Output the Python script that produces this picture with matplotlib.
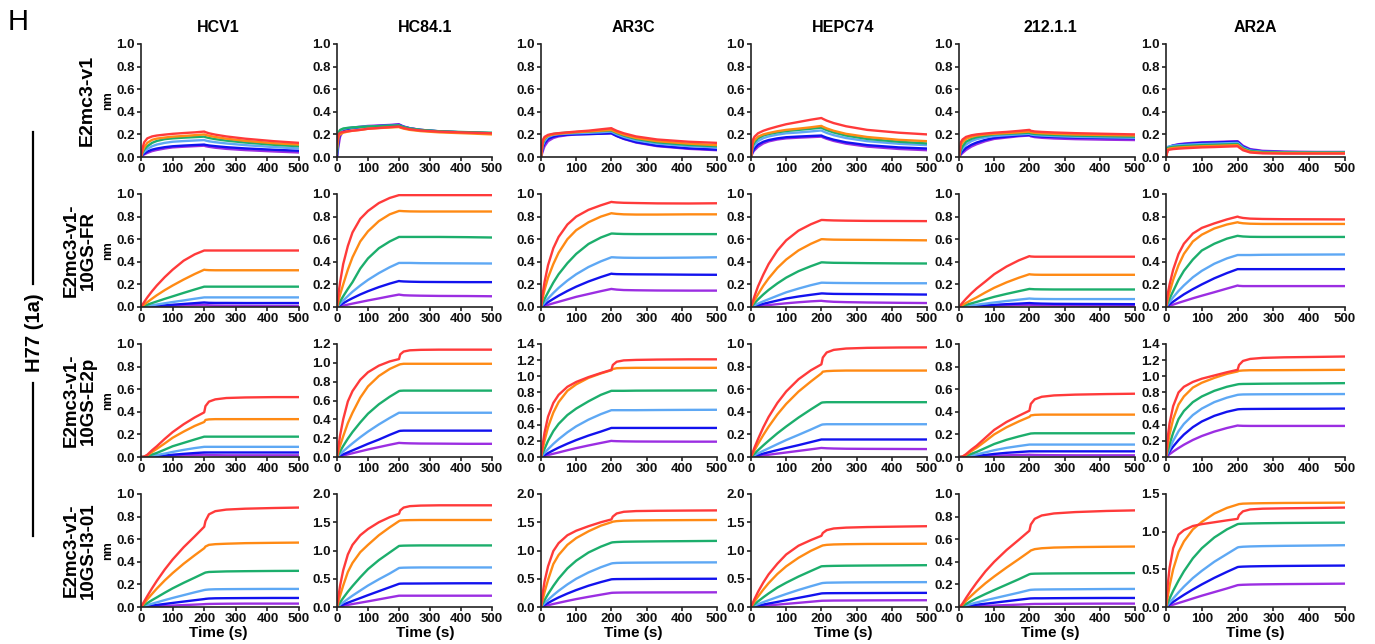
import numpy as np
import matplotlib
matplotlib.use('Agg')
import matplotlib.pyplot as plt
from matplotlib.lines import Line2D
from matplotlib.ticker import FormatStrFormatter

plt.rcParams['font.family'] = ['Liberation Sans', 'DejaVu Sans']
plt.rcParams['font.weight'] = 'bold'

# sample times (s): association then dissociation
TA = [0, 5, 10, 20, 35, 50, 75, 100, 135, 170, 200]
TD = [204, 215, 235, 270, 330, 420, 500]
times = TA + TD

antibodies = ['HCV1', 'HC84.1', 'AR3C', 'HEPC74', '212.1.1', 'AR2A']
constructs = ['E2mc3-v1', 'E2mc3-v1-\n10GS-FR', 'E2mc3-v1-\n10GS-E2p', 'E2mc3-v1-\n10GS-I3-01']
# highest to lowest concentration
colors = ['#ff3a3a', '#ff8a14', '#1cae6c', '#5ea8f4', '#1212ee', '#9b2ee2']

# ---- row 1 : E2mc3-v1
r1_hcv1 = [
    [0, 0.08, 0.13, 0.165, 0.182, 0.19, 0.198, 0.205, 0.212, 0.218, 0.225, 0.22, 0.21, 0.198, 0.182, 0.162, 0.14, 0.125],
    [0, 0.05, 0.085, 0.125, 0.152, 0.163, 0.172, 0.18, 0.186, 0.193, 0.2, 0.196, 0.188, 0.177, 0.162, 0.143, 0.122, 0.11],
    [0, 0.04, 0.065, 0.095, 0.125, 0.142, 0.158, 0.165, 0.171, 0.176, 0.18, 0.176, 0.168, 0.158, 0.145, 0.128, 0.108, 0.095],
    [0, 0.03, 0.045, 0.07, 0.095, 0.11, 0.125, 0.135, 0.141, 0.146, 0.15, 0.146, 0.139, 0.131, 0.12, 0.105, 0.088, 0.075],
    [0, 0.02, 0.03, 0.048, 0.065, 0.075, 0.087, 0.095, 0.101, 0.106, 0.11, 0.107, 0.102, 0.096, 0.087, 0.076, 0.064, 0.055],
    [0, 0.015, 0.022, 0.036, 0.052, 0.062, 0.075, 0.085, 0.091, 0.096, 0.1, 0.096, 0.09, 0.082, 0.072, 0.061, 0.049, 0.04],
]
r1_hc84 = [
    [0.12, 0.2, 0.215, 0.222, 0.228, 0.233, 0.24, 0.25, 0.257, 0.264, 0.27, 0.265, 0.256, 0.245, 0.234, 0.224, 0.216, 0.21],
    [0.08, 0.18, 0.2, 0.215, 0.225, 0.232, 0.24, 0.25, 0.256, 0.261, 0.265, 0.26, 0.251, 0.24, 0.229, 0.218, 0.209, 0.2],
    [0.05, 0.22, 0.24, 0.252, 0.258, 0.262, 0.266, 0.27, 0.273, 0.277, 0.28, 0.275, 0.265, 0.253, 0.24, 0.228, 0.22, 0.215],
    [0.03, 0.2, 0.23, 0.248, 0.256, 0.261, 0.266, 0.27, 0.273, 0.277, 0.28, 0.275, 0.265, 0.252, 0.238, 0.226, 0.216, 0.21],
    [0, 0.15, 0.21, 0.24, 0.25, 0.256, 0.263, 0.27, 0.275, 0.28, 0.285, 0.28, 0.268, 0.254, 0.24, 0.227, 0.216, 0.21],
    [0, 0.1, 0.18, 0.235, 0.252, 0.26, 0.268, 0.275, 0.279, 0.284, 0.29, 0.284, 0.27, 0.255, 0.24, 0.227, 0.216, 0.21],
]
r1_ar3c = [
    [0, 0.15, 0.178, 0.196, 0.206, 0.211, 0.218, 0.225, 0.233, 0.245, 0.255, 0.248, 0.232, 0.21, 0.182, 0.155, 0.135, 0.125],
    [0, 0.13, 0.165, 0.188, 0.2, 0.206, 0.213, 0.22, 0.226, 0.233, 0.24, 0.234, 0.219, 0.197, 0.168, 0.14, 0.118, 0.105],
    [0, 0.12, 0.16, 0.19, 0.203, 0.21, 0.216, 0.22, 0.225, 0.23, 0.235, 0.229, 0.213, 0.19, 0.16, 0.13, 0.107, 0.095],
    [0, 0.1, 0.14, 0.178, 0.195, 0.202, 0.207, 0.21, 0.214, 0.219, 0.225, 0.218, 0.202, 0.178, 0.148, 0.118, 0.096, 0.085],
    [0, 0.08, 0.12, 0.16, 0.18, 0.19, 0.197, 0.2, 0.203, 0.206, 0.21, 0.203, 0.186, 0.162, 0.132, 0.1, 0.077, 0.065],
    [0, 0.05, 0.095, 0.14, 0.168, 0.182, 0.193, 0.2, 0.203, 0.206, 0.21, 0.203, 0.186, 0.16, 0.128, 0.096, 0.072, 0.06],
]
r1_hepc = [
    [0, 0.15, 0.18, 0.21, 0.232, 0.248, 0.27, 0.29, 0.31, 0.33, 0.345, 0.338, 0.322, 0.3, 0.272, 0.24, 0.215, 0.2],
    [0, 0.12, 0.15, 0.18, 0.2, 0.212, 0.228, 0.24, 0.251, 0.263, 0.275, 0.268, 0.253, 0.232, 0.205, 0.177, 0.152, 0.14],
    [0, 0.1, 0.13, 0.165, 0.19, 0.203, 0.218, 0.23, 0.24, 0.25, 0.26, 0.253, 0.238, 0.217, 0.19, 0.16, 0.135, 0.12],
    [0, 0.08, 0.105, 0.14, 0.167, 0.182, 0.198, 0.21, 0.217, 0.226, 0.235, 0.228, 0.213, 0.193, 0.168, 0.14, 0.117, 0.105],
    [0, 0.05, 0.075, 0.11, 0.135, 0.15, 0.165, 0.175, 0.181, 0.186, 0.19, 0.184, 0.171, 0.153, 0.13, 0.105, 0.085, 0.075],
    [0, 0.04, 0.06, 0.09, 0.12, 0.138, 0.155, 0.165, 0.171, 0.176, 0.18, 0.174, 0.161, 0.142, 0.118, 0.092, 0.071, 0.06],
]
r1_212 = [
    [0, 0.13, 0.155, 0.178, 0.192, 0.2, 0.208, 0.215, 0.222, 0.231, 0.24, 0.232, 0.226, 0.222, 0.217, 0.211, 0.205, 0.2],
    [0, 0.1, 0.13, 0.16, 0.178, 0.19, 0.199, 0.205, 0.211, 0.218, 0.225, 0.219, 0.214, 0.21, 0.205, 0.199, 0.194, 0.19],
    [0, 0.06, 0.095, 0.135, 0.16, 0.175, 0.188, 0.2, 0.205, 0.21, 0.215, 0.209, 0.204, 0.2, 0.195, 0.189, 0.184, 0.18],
    [0, 0.05, 0.075, 0.11, 0.14, 0.158, 0.174, 0.185, 0.193, 0.2, 0.205, 0.199, 0.194, 0.19, 0.185, 0.179, 0.174, 0.17],
    [0, 0.03, 0.05, 0.08, 0.108, 0.128, 0.152, 0.17, 0.18, 0.19, 0.195, 0.19, 0.185, 0.181, 0.177, 0.172, 0.168, 0.165],
    [0, 0.02, 0.035, 0.062, 0.092, 0.113, 0.14, 0.16, 0.172, 0.184, 0.19, 0.183, 0.176, 0.17, 0.164, 0.158, 0.153, 0.15],
]
r1_ar2a = [
    [0, 0.06, 0.065, 0.07, 0.074, 0.077, 0.081, 0.085, 0.088, 0.092, 0.095, 0.085, 0.06, 0.04, 0.032, 0.03, 0.03, 0.03],
    [0, 0.07, 0.075, 0.08, 0.084, 0.087, 0.091, 0.095, 0.098, 0.102, 0.105, 0.095, 0.068, 0.046, 0.037, 0.035, 0.035, 0.035],
    [0, 0.08, 0.085, 0.09, 0.094, 0.097, 0.101, 0.105, 0.108, 0.112, 0.115, 0.105, 0.076, 0.053, 0.043, 0.04, 0.04, 0.04],
    [0, 0.09, 0.095, 0.1, 0.104, 0.107, 0.111, 0.115, 0.118, 0.122, 0.125, 0.115, 0.084, 0.058, 0.046, 0.042, 0.04, 0.04],
    [0, 0.08, 0.092, 0.102, 0.109, 0.114, 0.12, 0.125, 0.128, 0.132, 0.135, 0.125, 0.092, 0.064, 0.05, 0.044, 0.041, 0.04],
    [0, 0.07, 0.088, 0.103, 0.113, 0.119, 0.125, 0.13, 0.133, 0.137, 0.14, 0.13, 0.1, 0.07, 0.055, 0.048, 0.045, 0.045],
]

# ---- row 2 : E2mc3-v1-10GS-FR
r2_hcv1 = [
    [0, 0.022, 0.044, 0.085, 0.14, 0.19, 0.264, 0.33, 0.41, 0.466, 0.5, 0.5, 0.5, 0.5, 0.5, 0.5, 0.5, 0.5],
    [0, 0.011, 0.022, 0.043, 0.074, 0.104, 0.149, 0.19, 0.243, 0.292, 0.33, 0.328, 0.326, 0.325, 0.325, 0.325, 0.325, 0.325],
    [0, 0.005, 0.01, 0.02, 0.035, 0.049, 0.072, 0.094, 0.125, 0.155, 0.18, 0.18, 0.18, 0.18, 0.18, 0.18, 0.18, 0.18],
    [0, 0.002, 0.004, 0.009, 0.015, 0.022, 0.033, 0.044, 0.058, 0.073, 0.085, 0.085, 0.085, 0.085, 0.085, 0.085, 0.085, 0.085],
    [0, 0.001, 0.002, 0.004, 0.007, 0.01, 0.015, 0.02, 0.027, 0.034, 0.04, 0.039, 0.037, 0.036, 0.036, 0.035, 0.035, 0.035],
    [0, 0.0005, 0.001, 0.002, 0.0035, 0.005, 0.0075, 0.01, 0.0135, 0.017, 0.02, 0.018, 0.015, 0.013, 0.012, 0.011, 0.01, 0.01],
]
r2_hc84 = [
    [0, 0.12, 0.22, 0.38, 0.54, 0.66, 0.78, 0.85, 0.92, 0.965, 0.99, 0.99, 0.99, 0.99, 0.99, 0.99, 0.99, 0.99],
    [0, 0.055, 0.11, 0.2, 0.33, 0.44, 0.58, 0.67, 0.76, 0.82, 0.85, 0.85, 0.848, 0.846, 0.845, 0.845, 0.845, 0.845],
    [0, 0.025, 0.05, 0.095, 0.16, 0.22, 0.34, 0.43, 0.52, 0.58, 0.62, 0.62, 0.62, 0.62, 0.62, 0.62, 0.618, 0.615],
    [0, 0.015, 0.029, 0.057, 0.097, 0.135, 0.19, 0.24, 0.3, 0.352, 0.39, 0.39, 0.39, 0.39, 0.388, 0.387, 0.386, 0.385],
    [0, 0.009, 0.017, 0.033, 0.057, 0.078, 0.111, 0.14, 0.176, 0.207, 0.23, 0.228, 0.226, 0.224, 0.222, 0.221, 0.22, 0.22],
    [0, 0.003, 0.006, 0.012, 0.021, 0.03, 0.044, 0.058, 0.076, 0.095, 0.11, 0.108, 0.104, 0.102, 0.1, 0.098, 0.097, 0.095],
]
r2_ar3c = [
    [0, 0.12, 0.22, 0.37, 0.52, 0.62, 0.73, 0.8, 0.86, 0.9, 0.93, 0.928, 0.925, 0.922, 0.92, 0.917, 0.916, 0.918],
    [0, 0.08, 0.15, 0.26, 0.38, 0.48, 0.6, 0.68, 0.75, 0.8, 0.83, 0.828, 0.824, 0.82, 0.818, 0.818, 0.82, 0.82],
    [0, 0.036, 0.07, 0.13, 0.216, 0.29, 0.388, 0.47, 0.558, 0.615, 0.65, 0.65, 0.648, 0.646, 0.645, 0.645, 0.645, 0.645],
    [0, 0.02, 0.038, 0.075, 0.124, 0.169, 0.234, 0.29, 0.354, 0.404, 0.44, 0.44, 0.438, 0.436, 0.435, 0.435, 0.437, 0.44],
    [0, 0.011, 0.022, 0.043, 0.072, 0.1, 0.142, 0.18, 0.226, 0.265, 0.295, 0.293, 0.291, 0.29, 0.289, 0.288, 0.286, 0.285],
    [0, 0.005, 0.01, 0.019, 0.033, 0.046, 0.068, 0.09, 0.115, 0.14, 0.16, 0.158, 0.154, 0.15, 0.148, 0.146, 0.145, 0.145],
]
r2_hepc = [
    [0, 0.049, 0.096, 0.183, 0.287, 0.38, 0.5, 0.59, 0.676, 0.732, 0.77, 0.77, 0.768, 0.766, 0.764, 0.762, 0.761, 0.76],
    [0, 0.031, 0.06, 0.113, 0.188, 0.253, 0.346, 0.42, 0.501, 0.559, 0.6, 0.6, 0.598, 0.596, 0.595, 0.594, 0.592, 0.59],
    [0, 0.018, 0.034, 0.067, 0.111, 0.151, 0.209, 0.26, 0.317, 0.361, 0.395, 0.395, 0.393, 0.391, 0.39, 0.388, 0.386, 0.385],
    [0, 0.008, 0.015, 0.03, 0.05, 0.069, 0.1, 0.13, 0.163, 0.193, 0.215, 0.215, 0.214, 0.213, 0.212, 0.211, 0.21, 0.21],
    [0, 0.004, 0.008, 0.016, 0.028, 0.039, 0.057, 0.075, 0.093, 0.108, 0.12, 0.12, 0.118, 0.116, 0.115, 0.114, 0.112, 0.11],
    [0, 0.002, 0.003, 0.007, 0.012, 0.017, 0.025, 0.033, 0.042, 0.05, 0.055, 0.053, 0.05, 0.046, 0.043, 0.04, 0.037, 0.035],
]
r2_212 = [
    [0, 0.019, 0.038, 0.073, 0.121, 0.164, 0.226, 0.29, 0.358, 0.413, 0.45, 0.447, 0.445, 0.445, 0.445, 0.445, 0.445, 0.445],
    [0, 0.009, 0.018, 0.036, 0.061, 0.085, 0.129, 0.17, 0.218, 0.259, 0.29, 0.288, 0.286, 0.285, 0.285, 0.285, 0.285, 0.285],
    [0, 0.005, 0.01, 0.019, 0.032, 0.045, 0.068, 0.09, 0.116, 0.14, 0.16, 0.159, 0.157, 0.156, 0.155, 0.155, 0.155, 0.155],
    [0, 0.002, 0.004, 0.008, 0.014, 0.02, 0.03, 0.04, 0.053, 0.065, 0.075, 0.074, 0.072, 0.071, 0.07, 0.07, 0.07, 0.07],
    [0, 0.001, 0.002, 0.004, 0.006, 0.009, 0.014, 0.019, 0.025, 0.03, 0.035, 0.034, 0.032, 0.03, 0.028, 0.027, 0.026, 0.025],
    [0, 0.0005, 0.001, 0.002, 0.0035, 0.005, 0.0075, 0.01, 0.0135, 0.017, 0.02, 0.018, 0.016, 0.014, 0.013, 0.012, 0.011, 0.01],
]
r2_ar2a = [
    [0, 0.12, 0.2, 0.33, 0.47, 0.56, 0.65, 0.7, 0.74, 0.775, 0.8, 0.795, 0.788, 0.782, 0.779, 0.777, 0.776, 0.775],
    [0, 0.07, 0.13, 0.24, 0.37, 0.47, 0.58, 0.64, 0.695, 0.73, 0.75, 0.746, 0.741, 0.737, 0.735, 0.735, 0.735, 0.735],
    [0, 0.04, 0.075, 0.14, 0.24, 0.32, 0.42, 0.5, 0.56, 0.605, 0.63, 0.628, 0.624, 0.621, 0.62, 0.62, 0.62, 0.62],
    [0, 0.023, 0.045, 0.086, 0.142, 0.191, 0.263, 0.32, 0.383, 0.43, 0.46, 0.46, 0.46, 0.46, 0.462, 0.463, 0.464, 0.465],
    [0, 0.012, 0.024, 0.047, 0.08, 0.112, 0.158, 0.2, 0.254, 0.3, 0.335, 0.335, 0.335, 0.335, 0.335, 0.335, 0.335, 0.335],
    [0, 0.005, 0.011, 0.021, 0.037, 0.052, 0.077, 0.1, 0.131, 0.163, 0.19, 0.187, 0.185, 0.185, 0.185, 0.185, 0.185, 0.185],
]

# ---- row 3 : E2mc3-v1-10GS-E2p
r3_hcv1 = [
    [0, 0, 0.003, 0.02, 0.06, 0.095, 0.16, 0.22, 0.29, 0.35, 0.395, 0.45, 0.49, 0.51, 0.522, 0.527, 0.53, 0.53],
    [0, 0, 0.002, 0.015, 0.045, 0.072, 0.12, 0.17, 0.225, 0.275, 0.31, 0.328, 0.333, 0.335, 0.335, 0.335, 0.335, 0.335],
    [0, 0, 0.001, 0.008, 0.022, 0.036, 0.065, 0.095, 0.125, 0.155, 0.18, 0.18, 0.18, 0.18, 0.18, 0.18, 0.18, 0.18],
    [0, 0, 0.0005, 0.003, 0.01, 0.017, 0.03, 0.045, 0.063, 0.079, 0.09, 0.09, 0.09, 0.09, 0.09, 0.09, 0.09, 0.09],
    [0, 0, 0, 0.001, 0.004, 0.007, 0.013, 0.02, 0.028, 0.035, 0.04, 0.04, 0.04, 0.04, 0.04, 0.04, 0.04, 0.04],
    [0, 0, 0, 0.001, 0.002, 0.0035, 0.0065, 0.01, 0.014, 0.017, 0.02, 0.019, 0.017, 0.016, 0.015, 0.015, 0.015, 0.015],
]
r3_hc84 = [
    [0, 0.12, 0.23, 0.4, 0.59, 0.7, 0.82, 0.9, 0.97, 1.015, 1.04, 1.09, 1.12, 1.133, 1.138, 1.14, 1.14, 1.14],
    [0, 0.06, 0.12, 0.22, 0.36, 0.47, 0.63, 0.75, 0.86, 0.935, 0.98, 0.985, 0.99, 0.99, 0.99, 0.99, 0.99, 0.99],
    [0, 0.031, 0.06, 0.117, 0.195, 0.265, 0.367, 0.46, 0.56, 0.64, 0.7, 0.703, 0.705, 0.705, 0.705, 0.705, 0.705, 0.705],
    [0, 0.015, 0.031, 0.061, 0.104, 0.145, 0.21, 0.27, 0.346, 0.415, 0.47, 0.47, 0.47, 0.47, 0.47, 0.47, 0.47, 0.47],
    [0, 0.007, 0.014, 0.028, 0.049, 0.07, 0.105, 0.14, 0.185, 0.235, 0.275, 0.278, 0.28, 0.28, 0.28, 0.28, 0.28, 0.28],
    [0, 0.004, 0.008, 0.016, 0.028, 0.04, 0.06, 0.08, 0.105, 0.13, 0.15, 0.149, 0.147, 0.145, 0.143, 0.142, 0.14, 0.14],
]
r3_ar3c = [
    [0, 0.16, 0.3, 0.5, 0.67, 0.77, 0.87, 0.93, 0.99, 1.04, 1.08, 1.14, 1.18, 1.197, 1.203, 1.207, 1.21, 1.21],
    [0, 0.1, 0.2, 0.37, 0.55, 0.68, 0.82, 0.9, 0.98, 1.035, 1.075, 1.09, 1.1, 1.103, 1.105, 1.105, 1.105, 1.105],
    [0, 0.05, 0.1, 0.2, 0.32, 0.41, 0.52, 0.6, 0.69, 0.77, 0.82, 0.82, 0.82, 0.82, 0.822, 0.823, 0.824, 0.825],
    [0, 0.025, 0.05, 0.097, 0.162, 0.22, 0.306, 0.38, 0.463, 0.531, 0.58, 0.58, 0.58, 0.58, 0.58, 0.582, 0.584, 0.585],
    [0, 0.012, 0.024, 0.048, 0.083, 0.116, 0.165, 0.21, 0.266, 0.315, 0.36, 0.36, 0.36, 0.36, 0.36, 0.36, 0.36, 0.36],
    [0, 0.006, 0.012, 0.024, 0.04, 0.056, 0.084, 0.11, 0.143, 0.174, 0.2, 0.198, 0.196, 0.194, 0.192, 0.191, 0.19, 0.19],
]
r3_hepc = [
    [0, 0.043, 0.084, 0.159, 0.263, 0.354, 0.479, 0.58, 0.688, 0.767, 0.82, 0.88, 0.925, 0.948, 0.96, 0.966, 0.969, 0.97],
    [0, 0.03, 0.06, 0.116, 0.195, 0.268, 0.377, 0.47, 0.579, 0.668, 0.74, 0.755, 0.76, 0.763, 0.765, 0.765, 0.765, 0.765],
    [0, 0.015, 0.03, 0.06, 0.103, 0.144, 0.21, 0.27, 0.349, 0.421, 0.48, 0.483, 0.485, 0.485, 0.485, 0.485, 0.485, 0.485],
    [0, 0.008, 0.016, 0.032, 0.055, 0.077, 0.114, 0.15, 0.196, 0.243, 0.285, 0.288, 0.29, 0.29, 0.29, 0.29, 0.29, 0.29],
    [0, 0.004, 0.009, 0.017, 0.03, 0.042, 0.061, 0.08, 0.105, 0.132, 0.155, 0.155, 0.155, 0.155, 0.155, 0.155, 0.155, 0.155],
    [0, 0.002, 0.004, 0.008, 0.014, 0.02, 0.03, 0.04, 0.054, 0.068, 0.08, 0.079, 0.077, 0.075, 0.073, 0.072, 0.071, 0.07],
]
r3_212 = [
    [0, 0, 0.004, 0.025, 0.065, 0.1, 0.17, 0.24, 0.31, 0.365, 0.41, 0.47, 0.51, 0.533, 0.545, 0.552, 0.557, 0.56],
    [0, 0, 0.003, 0.02, 0.052, 0.082, 0.14, 0.2, 0.263, 0.315, 0.355, 0.368, 0.373, 0.375, 0.375, 0.375, 0.375, 0.375],
    [0, 0, 0.001, 0.01, 0.028, 0.045, 0.08, 0.115, 0.152, 0.182, 0.205, 0.208, 0.21, 0.21, 0.21, 0.21, 0.21, 0.21],
    [0, 0, 0.0005, 0.005, 0.014, 0.023, 0.041, 0.06, 0.081, 0.097, 0.11, 0.11, 0.11, 0.11, 0.11, 0.11, 0.11, 0.11],
    [0, 0, 0, 0.002, 0.006, 0.01, 0.018, 0.027, 0.037, 0.044, 0.05, 0.05, 0.05, 0.05, 0.05, 0.05, 0.05, 0.05],
    [0, 0, 0, 0.001, 0.003, 0.004, 0.008, 0.011, 0.015, 0.018, 0.02, 0.019, 0.018, 0.017, 0.016, 0.015, 0.015, 0.015],
]
r3_ar2a = [
    [0, 0.25, 0.42, 0.63, 0.8, 0.87, 0.93, 0.97, 1.01, 1.05, 1.08, 1.14, 1.19, 1.215, 1.228, 1.235, 1.24, 1.245],
    [0, 0.15, 0.28, 0.47, 0.65, 0.75, 0.86, 0.92, 0.98, 1.03, 1.06, 1.068, 1.072, 1.075, 1.075, 1.076, 1.078, 1.08],
    [0, 0.08, 0.16, 0.3, 0.47, 0.57, 0.68, 0.75, 0.82, 0.87, 0.9, 0.903, 0.905, 0.906, 0.908, 0.91, 0.912, 0.915],
    [0, 0.05, 0.1, 0.2, 0.32, 0.41, 0.52, 0.6, 0.68, 0.735, 0.77, 0.772, 0.775, 0.776, 0.777, 0.778, 0.779, 0.78],
    [0, 0.035, 0.068, 0.13, 0.209, 0.278, 0.37, 0.44, 0.51, 0.56, 0.59, 0.592, 0.594, 0.595, 0.596, 0.597, 0.598, 0.6],
    [0, 0.018, 0.035, 0.067, 0.111, 0.152, 0.211, 0.26, 0.315, 0.359, 0.39, 0.388, 0.386, 0.385, 0.385, 0.385, 0.385, 0.385],
]

# ---- row 4 : E2mc3-v1-10GS-I3-01
r4_hcv1 = [
    [0, 0.025, 0.049, 0.097, 0.166, 0.231, 0.331, 0.42, 0.529, 0.625, 0.71, 0.76, 0.82, 0.848, 0.862, 0.87, 0.876, 0.88],
    [0, 0.017, 0.034, 0.068, 0.116, 0.163, 0.235, 0.3, 0.383, 0.458, 0.52, 0.535, 0.55, 0.556, 0.56, 0.565, 0.568, 0.57],
    [0, 0.009, 0.018, 0.035, 0.061, 0.085, 0.126, 0.165, 0.214, 0.26, 0.3, 0.305, 0.31, 0.312, 0.315, 0.317, 0.319, 0.32],
    [0, 0.004, 0.008, 0.017, 0.029, 0.041, 0.061, 0.08, 0.105, 0.13, 0.15, 0.152, 0.155, 0.157, 0.158, 0.159, 0.16, 0.16],
    [0, 0.002, 0.004, 0.008, 0.013, 0.018, 0.027, 0.036, 0.048, 0.06, 0.07, 0.072, 0.075, 0.077, 0.078, 0.079, 0.08, 0.08],
    [0, 0.0005, 0.001, 0.003, 0.005, 0.007, 0.01, 0.013, 0.017, 0.021, 0.025, 0.026, 0.027, 0.028, 0.029, 0.03, 0.03, 0.03],
]
r4_hc84 = [
    [0, 0.2, 0.38, 0.65, 0.93, 1.1, 1.27, 1.38, 1.5, 1.59, 1.65, 1.71, 1.76, 1.785, 1.795, 1.8, 1.8, 1.8],
    [0, 0.1, 0.2, 0.38, 0.62, 0.78, 0.97, 1.1, 1.27, 1.41, 1.52, 1.53, 1.535, 1.538, 1.54, 1.54, 1.54, 1.54],
    [0, 0.042, 0.083, 0.16, 0.27, 0.37, 0.526, 0.67, 0.83, 0.965, 1.08, 1.083, 1.086, 1.088, 1.09, 1.09, 1.09, 1.09],
    [0, 0.021, 0.041, 0.082, 0.142, 0.201, 0.291, 0.38, 0.49, 0.593, 0.69, 0.693, 0.696, 0.698, 0.7, 0.7, 0.7, 0.7],
    [0, 0.011, 0.022, 0.044, 0.076, 0.107, 0.158, 0.21, 0.28, 0.35, 0.41, 0.413, 0.415, 0.415, 0.416, 0.418, 0.42, 0.42],
    [0, 0.005, 0.011, 0.021, 0.037, 0.052, 0.076, 0.1, 0.135, 0.17, 0.2, 0.2, 0.2, 0.2, 0.2, 0.2, 0.2, 0.2],
]
r4_ar3c = [
    [0, 0.25, 0.45, 0.72, 0.99, 1.13, 1.27, 1.35, 1.43, 1.5, 1.55, 1.6, 1.655, 1.685, 1.698, 1.703, 1.707, 1.71],
    [0, 0.13, 0.26, 0.48, 0.76, 0.92, 1.1, 1.22, 1.34, 1.44, 1.5, 1.51, 1.52, 1.528, 1.532, 1.535, 1.538, 1.54],
    [0, 0.062, 0.121, 0.229, 0.373, 0.503, 0.683, 0.82, 0.965, 1.068, 1.14, 1.145, 1.15, 1.155, 1.158, 1.162, 1.166, 1.17],
    [0, 0.033, 0.065, 0.126, 0.21, 0.287, 0.4, 0.5, 0.612, 0.704, 0.77, 0.775, 0.78, 0.783, 0.785, 0.787, 0.789, 0.79],
    [0, 0.019, 0.037, 0.071, 0.122, 0.169, 0.238, 0.3, 0.377, 0.441, 0.49, 0.492, 0.494, 0.495, 0.496, 0.498, 0.499, 0.5],
    [0, 0.008, 0.016, 0.031, 0.053, 0.074, 0.108, 0.14, 0.18, 0.218, 0.25, 0.252, 0.254, 0.256, 0.257, 0.258, 0.259, 0.26],
]
r4_hepc = [
    [0, 0.073, 0.142, 0.269, 0.434, 0.578, 0.767, 0.93, 1.085, 1.184, 1.26, 1.31, 1.36, 1.39, 1.405, 1.415, 1.423, 1.43],
    [0, 0.049, 0.096, 0.185, 0.309, 0.422, 0.585, 0.72, 0.871, 0.994, 1.08, 1.09, 1.1, 1.107, 1.112, 1.116, 1.118, 1.12],
    [0, 0.026, 0.051, 0.1, 0.172, 0.24, 0.344, 0.43, 0.539, 0.637, 0.72, 0.722, 0.725, 0.728, 0.731, 0.734, 0.737, 0.74],
    [0, 0.013, 0.025, 0.05, 0.086, 0.12, 0.176, 0.23, 0.302, 0.367, 0.42, 0.425, 0.43, 0.432, 0.435, 0.437, 0.439, 0.44],
    [0, 0.006, 0.013, 0.025, 0.043, 0.061, 0.09, 0.12, 0.162, 0.203, 0.24, 0.242, 0.244, 0.245, 0.246, 0.247, 0.249, 0.25],
    [0, 0.003, 0.006, 0.011, 0.02, 0.028, 0.042, 0.055, 0.074, 0.093, 0.11, 0.111, 0.112, 0.114, 0.115, 0.117, 0.119, 0.12],
]
r4_212 = [
    [0, 0.01, 0.03, 0.08, 0.15, 0.215, 0.315, 0.4, 0.504, 0.595, 0.675, 0.73, 0.78, 0.81, 0.828, 0.84, 0.85, 0.855],
    [0, 0.005, 0.02, 0.055, 0.1, 0.143, 0.21, 0.27, 0.349, 0.424, 0.49, 0.5, 0.512, 0.52, 0.526, 0.53, 0.533, 0.535],
    [0, 0.002, 0.009, 0.027, 0.053, 0.078, 0.115, 0.15, 0.198, 0.246, 0.29, 0.293, 0.295, 0.296, 0.297, 0.298, 0.299, 0.3],
    [0, 0.001, 0.004, 0.013, 0.027, 0.04, 0.059, 0.077, 0.102, 0.127, 0.15, 0.152, 0.154, 0.155, 0.156, 0.157, 0.159, 0.16],
    [0, 0, 0.002, 0.006, 0.013, 0.02, 0.029, 0.038, 0.051, 0.064, 0.075, 0.076, 0.077, 0.077, 0.078, 0.079, 0.08, 0.08],
    [0, 0, 0.001, 0.002, 0.004, 0.007, 0.01, 0.013, 0.017, 0.021, 0.025, 0.026, 0.027, 0.027, 0.028, 0.029, 0.03, 0.03],
]
r4_ar2a = [
    [0, 0.3, 0.52, 0.78, 0.96, 1.02, 1.075, 1.1, 1.125, 1.15, 1.17, 1.22, 1.27, 1.295, 1.305, 1.31, 1.315, 1.32],
    [0, 0.14, 0.28, 0.5, 0.73, 0.87, 1.03, 1.13, 1.24, 1.315, 1.36, 1.366, 1.372, 1.375, 1.378, 1.381, 1.383, 1.385],
    [0, 0.058, 0.113, 0.214, 0.35, 0.473, 0.646, 0.78, 0.923, 1.03, 1.1, 1.103, 1.106, 1.109, 1.112, 1.115, 1.118, 1.12],
    [0, 0.029, 0.058, 0.113, 0.194, 0.27, 0.384, 0.48, 0.601, 0.703, 0.79, 0.795, 0.8, 0.804, 0.808, 0.812, 0.816, 0.82],
    [0, 0.017, 0.034, 0.067, 0.115, 0.161, 0.233, 0.3, 0.387, 0.466, 0.53, 0.533, 0.536, 0.539, 0.542, 0.545, 0.548, 0.55],
    [0, 0.008, 0.016, 0.031, 0.053, 0.075, 0.113, 0.15, 0.198, 0.246, 0.29, 0.292, 0.295, 0.298, 0.301, 0.304, 0.307, 0.31],
]

panels = [
    [r1_hcv1, r1_hc84, r1_ar3c, r1_hepc, r1_212, r1_ar2a],
    [r2_hcv1, r2_hc84, r2_ar3c, r2_hepc, r2_212, r2_ar2a],
    [r3_hcv1, r3_hc84, r3_ar3c, r3_hepc, r3_212, r3_ar2a],
    [r4_hcv1, r4_hc84, r4_ar3c, r4_hepc, r4_212, r4_ar2a],
]
ymax = [
    [1.0, 1.0, 1.0, 1.0, 1.0, 1.0],
    [1.0, 1.0, 1.0, 1.0, 1.0, 1.0],
    [1.0, 1.2, 1.4, 1.0, 1.0, 1.4],
    [1.0, 2.0, 2.0, 2.0, 1.0, 1.5],
]

W, H = 1375, 644
fig = plt.figure(figsize=(W / 100, H / 100), dpi=100)

# panel geometry in pixels
col_left = [141, 337, 541, 751, 959, 1166]
col_w = [158, 155, 176, 176, 176, 179]
col_mid = [218, 425, 633, 843, 1050, 1255]
row_top = [44, 194, 344, 494]
ah = 113

for r in range(4):
    for c in range(6):
        ax = fig.add_axes([col_left[c] / W, 1 - (row_top[r] + ah) / H, col_w[c] / W, ah / H])
        curves = panels[r][c]
        for k in range(5, -1, -1):
            ax.plot(times, curves[k], color=colors[k], lw=1.7, solid_joinstyle='round')
        top = ymax[r][c]
        step = 0.5 if top >= 1.5 else 0.2
        ax.set_xlim(0, 500)
        ax.set_ylim(0, top)
        ax.set_xticks(np.arange(0, 501, 100))
        ax.set_yticks(np.arange(0, top + 1e-6, step))
        ax.yaxis.set_major_formatter(FormatStrFormatter('%.1f'))
        ax.spines['top'].set_visible(False)
        ax.spines['right'].set_visible(False)
        for s in ['left', 'bottom']:
            ax.spines[s].set_linewidth(1.2)
            ax.spines[s].set_color('#222222')
        ax.tick_params(length=3, width=1.1, labelsize=9.5, pad=1.5, colors='#111111')
        for lab in ax.get_xticklabels() + ax.get_yticklabels():
            lab.set_fontweight('bold')
        if r == 0:
            fig.text(col_mid[c] / W, 1 - 27 / H, antibodies[c], ha='center', va='center',
                     fontsize=11.5, fontweight='bold')
        if r == 3:
            fig.text(col_mid[c] / W, 1 - 633 / H, 'Time (s)', ha='center', va='center',
                     fontsize=11, fontweight='bold')

# row labels
for r in range(4):
    yc = 1 - (row_top[r] + ah / 2) / H
    xlab = 87 if r == 0 else 80
    fig.text(xlab / W, yc, constructs[r], rotation=90, ha='center', va='center',
             fontsize=14 if r == 0 else 13.5, fontweight='bold', linespacing=1.0)
    fig.text(108 / W, yc, 'nm', rotation=90, ha='center', va='center',
             fontsize=9, fontweight='bold')

fig.text(8 / W, 1 - 22 / H, 'H', ha='left', va='center', fontsize=21, fontweight='normal')
fig.text(35 / W, 1 - 333 / H, 'H77 (1a)', rotation=90, ha='center', va='center',
         fontsize=14.5, fontweight='bold')
fig.add_artist(Line2D([33 / W, 33 / W], [1 - 132 / H, 1 - 284 / H], color='black', lw=1.6))
fig.add_artist(Line2D([33 / W, 33 / W], [1 - 383 / H, 1 - 536 / H], color='black', lw=1.6))

fig.savefig('out.png', dpi=100)
